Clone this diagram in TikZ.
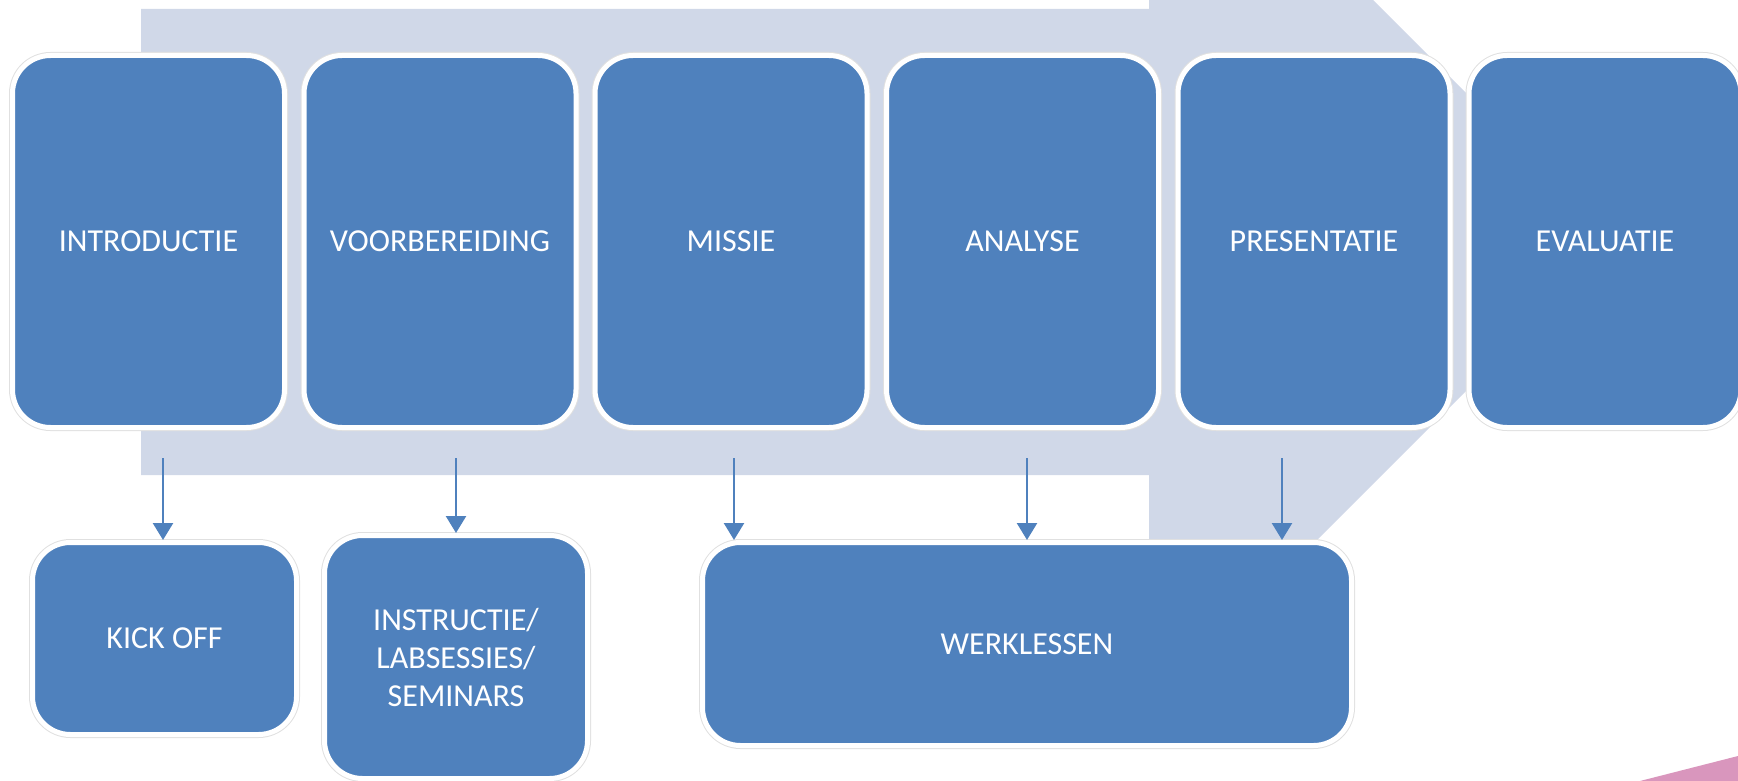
\documentclass[tikz,border=0pt]{standalone}
\usepackage{fontspec}
\setmainfont{Carlito}
\usetikzlibrary{arrows.meta}
\definecolor{boxblue}{RGB}{79,129,189}
\definecolor{bandgray}{RGB}{208,216,232}
\definecolor{cornerpink}{RGB}{217,150,189}
\tikzset{
  phase/.style={rectangle, rounded corners=38pt, fill=boxblue, draw=white, line width=5pt,
    preaction={draw=black!12, line width=7pt},
    text=white, font=\fontsize{32}{38}\selectfont, align=center, inner sep=0pt},
  arr/.style={draw=boxblue, line width=2.5pt, -{Triangle[width=20pt,length=17pt]}}
}
\begin{document}
\begin{tikzpicture}[x=1pt,y=-1pt]
\useasboundingbox (0,0) rectangle (1738,781);
\begin{scope}
\clip (0,0) rectangle (1738,781);
% background arrow band
\fill[bandgray] (141,9) -- (1149,9) -- (1149,-224) -- (1615,242) -- (1149,708) -- (1149,475) -- (141,475) -- cycle;
% pink corner
\fill[cornerpink] (1640,781) -- (1738,756) -- (1738,781) -- cycle;
% top row
\node[phase, minimum width=272pt, minimum height=372pt] (intro) at (148.5,241.5) {INTRODUCTIE};
\node[phase, minimum width=272pt, minimum height=372pt] (voor) at (440,241.5) {VOORBEREIDING};
\node[phase, minimum width=272pt, minimum height=372pt] (missie) at (731,241.5) {MISSIE};
\node[phase, minimum width=272pt, minimum height=372pt] (analyse) at (1022.5,241.5) {ANALYSE};
\node[phase, minimum width=272pt, minimum height=372pt] (pres) at (1314,241.5) {PRESENTATIE};
\node[phase, minimum width=272pt, minimum height=372pt] (eval) at (1605,241.5) {EVALUATIE};
% bottom row
\node[phase, minimum width=264pt, minimum height=192pt] (kick) at (164.5,638.5) {KICK OFF};
\node[phase, minimum width=263pt, minimum height=243pt] (instr) at (456,657) {INSTRUCTIE/\\LABSESSIES/\\SEMINARS};
\node[phase, minimum width=649pt, minimum height=203pt] (werk) at (1027,644) {WERKLESSEN};
% arrow starts
\coordinate (s1) at (163,458);
\coordinate (s2) at (456,458);
\coordinate (s3) at (734,458);
\coordinate (s4) at (1027,458);
\coordinate (s5) at (1282,458);
\draw[arr] (s1) -- (s1 |- kick.north);
\draw[arr] (s2) -- (s2 |- instr.north);
\draw[arr] (s3) -- (s3 |- werk.north);
\draw[arr] (s4) -- (s4 |- werk.north);
\draw[arr] (s5) -- (s5 |- werk.north);
\end{scope}
\end{tikzpicture}
\end{document}
